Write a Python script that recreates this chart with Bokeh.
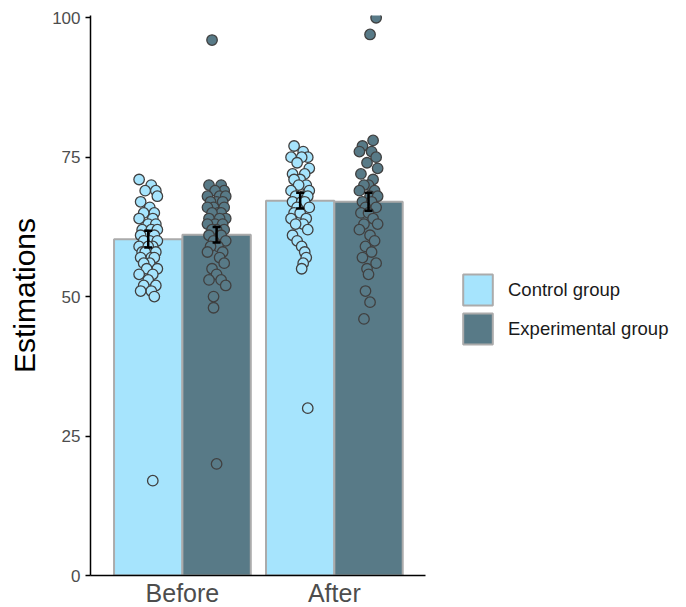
from bokeh.plotting import figure
from bokeh.models import ColumnDataSource, FixedTicker, Legend, LegendItem, Whisker, TeeHead, Range1d
from bokeh.embed import file_html
from bokeh.resources import INLINE

phases = ["Before", "After"]
groups = ["Control group", "Experimental group"]
means = {"Control group": [60.3, 67.2], "Experimental group": [61.1, 67.0]}
errors = {"Control group": [1.5, 1.4], "Experimental group": [1.4, 1.6]}

ctrl_before = [71, 70, 69, 69, 68, 67, 66, 65, 65, 64, 64, 63, 63, 62, 62, 62, 61, 61, 61, 60, 60, 60,
               59, 59, 59, 58, 58, 58, 57, 57, 57, 56, 56, 55, 55, 54, 54, 53, 52, 52, 51, 51, 50, 17]
exp_before = [96, 70, 70, 69, 69, 68, 68, 68, 67, 67, 67, 66, 66, 66, 65, 65, 65, 64, 64, 64, 63, 63,
              63, 62, 62, 62, 61, 61, 60, 60, 59, 59, 58, 58, 57, 56, 55, 54, 53, 53, 52, 50, 48, 20]
ctrl_after = [77, 76, 75, 75, 75, 74, 73, 72, 72, 71, 71, 70, 70, 69, 69, 68, 68, 68, 67, 67, 67, 66,
              66, 65, 65, 64, 64, 63, 63, 62, 61, 60, 59, 58, 57, 56, 55, 30]
exp_after = [100, 97, 78, 77, 76, 76, 75, 74, 73, 72, 71, 70, 70, 69, 69, 68, 68, 67, 67, 66, 66, 65,
             65, 64, 63, 63, 62, 61, 60, 59, 58, 57, 56, 55, 54, 51, 49, 46]

jit_cb = [-0.06, 0.02, 0.05, -0.02, 0.06, -0.05, 0.01, 0.04, -0.03, 0.03, -0.06, 0.00, 0.05, -0.04, 0.02,
          0.06, -0.01, -0.05, 0.04, 0.01, -0.03, 0.06, -0.06, 0.03, 0.00, -0.04, 0.05, -0.02, 0.02, -0.05,
          0.04, 0.01, -0.03, 0.06, -0.01, 0.03, -0.06, 0.00, 0.05, -0.03, 0.02, -0.05, 0.04, 0.03]
jit_eb = [-0.03, 0.03, -0.05, 0.05, -0.01, 0.02, -0.06, 0.06, 0.00, -0.04, 0.04, -0.02, 0.05, -0.06, 0.01,
          0.03, -0.03, 0.06, -0.05, 0.02, -0.01, 0.04, -0.06, 0.05, 0.00, -0.03, 0.03, -0.05, 0.06, -0.02,
          0.01, -0.04, 0.04, -0.06, 0.02, 0.05, -0.03, 0.00, -0.05, 0.03, 0.06, -0.02, -0.02, 0.00]
jit_ca = [-0.04, 0.02, -0.06, 0.05, 0.01, -0.02, 0.06, -0.05, 0.03, 0.00, -0.04, 0.04, -0.01, 0.06, -0.06,
          0.02, -0.03, 0.05, -0.05, 0.01, 0.03, -0.02, 0.06, -0.04, 0.00, 0.04, -0.06, 0.02, -0.03, 0.05,
          -0.05, -0.02, 0.01, 0.03, 0.04, 0.02, 0.01, 0.05]
jit_ea = [0.05, 0.01, 0.03, -0.04, 0.02, -0.06, 0.05, -0.01, 0.06, -0.05, 0.03, 0.00, -0.03, 0.04, -0.06,
          0.01, 0.06, -0.04, 0.02, -0.02, 0.05, -0.05, 0.00, 0.03, -0.03, 0.06, -0.06, 0.01, 0.04, -0.02,
          0.02, -0.04, 0.05, -0.01, 0.00, -0.02, 0.01, -0.03]

colors = {"Control group": "#A6E4FD", "Experimental group": "#587A87"}
dodge = {"Control group": -0.225, "Experimental group": 0.225}
bar_w = 0.45

p = figure(frame_width=335, frame_height=560, output_backend="svg", toolbar_location=None,
           x_range=Range1d(0.395, 2.6), y_range=Range1d(0, 100.4),
           min_border_left=90, min_border_top=15, min_border_bottom=32, min_border_right=261)
p.background_fill_color = "white"
p.border_fill_color = "white"
p.outline_line_color = None
p.xgrid.visible = False
p.ygrid.visible = False

renderers = {}
for g in groups:
    src = ColumnDataSource(dict(x=[1 + dodge[g], 2 + dodge[g]], top=means[g]))
    renderers[g] = p.vbar(x="x", top="top", width=bar_w, bottom=0, source=src,
                          fill_color=colors[g], line_color="#ABABAB", line_width=2)

point_sets = [
    ("Control group", 1, ctrl_before, jit_cb),
    ("Experimental group", 1, exp_before, jit_eb),
    ("Control group", 2, ctrl_after, jit_ca),
    ("Experimental group", 2, exp_after, jit_ea),
]
for g, xc, vals, jit in point_sets:
    xs = [xc + dodge[g] + j for j in jit[:len(vals)]]
    p.scatter(xs, vals, size=10.5, fill_color=colors[g], line_color="#404040", line_width=1.3)

for g in groups:
    xs = [1 + dodge[g], 2 + dodge[g]]
    lo = [m - e for m, e in zip(means[g], errors[g])]
    hi = [m + e for m, e in zip(means[g], errors[g])]
    src = ColumnDataSource(dict(x=xs, lo=lo, hi=hi))
    w = Whisker(base="x", lower="lo", upper="hi", source=src, line_color="black", line_width=2.5,
                level="overlay",
                upper_head=TeeHead(size=8, line_color="black", line_width=2.5),
                lower_head=TeeHead(size=8, line_color="black", line_width=2.5))
    p.add_layout(w)

p.xaxis.ticker = FixedTicker(ticks=[1, 2])
p.xaxis.major_label_overrides = {1: "Before", 2: "After"}
p.xaxis.major_label_text_font = "Liberation Sans"
p.xaxis.major_label_text_font_size = "25px"
p.xaxis.major_label_text_color = "#4D4D4D"
p.xaxis.major_tick_line_color = None
p.xaxis.major_tick_out = 0
p.xaxis.minor_tick_line_color = None
p.xaxis.major_label_standoff = 3
p.xaxis.axis_line_color = "black"
p.xaxis.axis_line_width = 1.5

p.yaxis.ticker = FixedTicker(ticks=[0, 25, 50, 75, 100])
p.yaxis.major_label_text_font = "Liberation Sans"
p.yaxis.major_label_text_font_size = "17px"
p.yaxis.major_label_text_color = "#4D4D4D"
p.yaxis.major_tick_out = 5
p.yaxis.major_tick_in = 0
p.yaxis.major_tick_line_color = "black"
p.yaxis.major_tick_line_width = 1.5
p.yaxis.minor_tick_line_color = None
p.yaxis.axis_line_color = "black"
p.yaxis.axis_line_width = 1.5
p.yaxis.axis_label = "Estimations"
p.yaxis.axis_label_text_font = "Liberation Sans"
p.yaxis.axis_label_text_font_style = "normal"
p.yaxis.axis_label_text_font_size = "30px"
p.yaxis.axis_label_text_color = "black"
p.yaxis.axis_label_standoff = 8

legend = Legend(items=[LegendItem(label=g, renderers=[renderers[g]]) for g in groups],
                location=(34, 227), orientation="vertical")
legend.glyph_width = 37
legend.glyph_height = 39
legend.spacing = -2
legend.label_standoff = 12
legend.label_text_font = "Liberation Sans"
legend.label_text_font_size = "18.5px"
legend.label_text_color = "#1A1A1A"
legend.border_line_color = None
legend.background_fill_alpha = 0
legend.margin = 0
legend.padding = 0
p.add_layout(legend, "right")

open("out.html", "w").write(file_html(p, INLINE))
